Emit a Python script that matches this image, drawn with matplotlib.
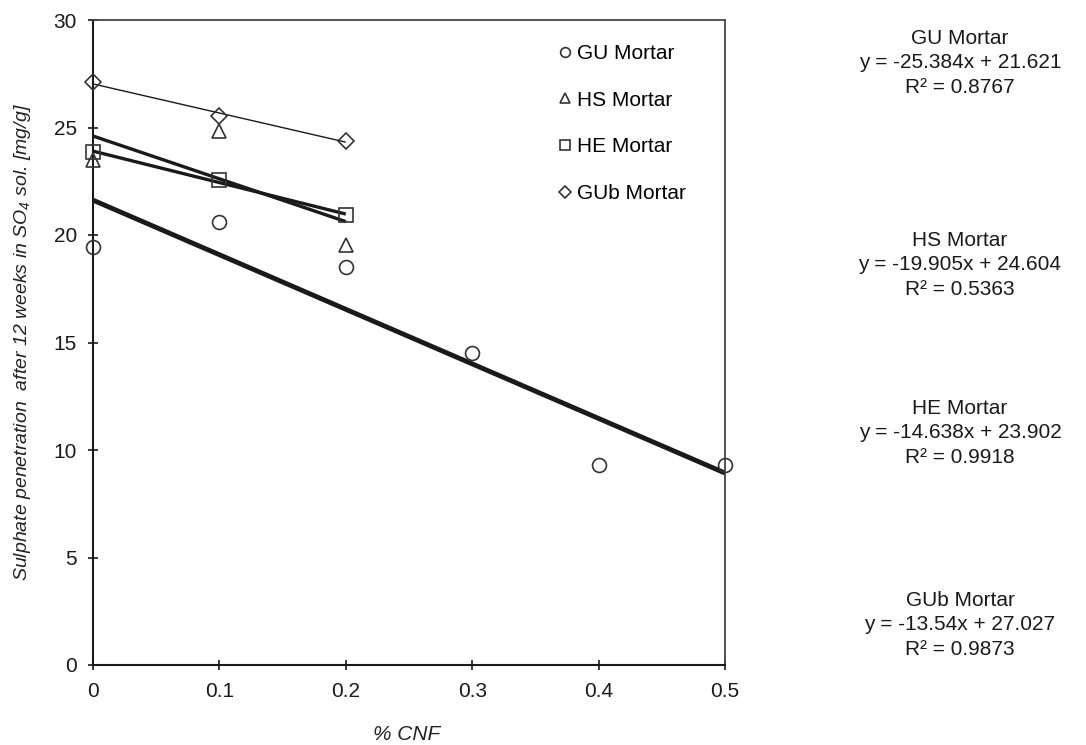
import matplotlib
matplotlib.use("Agg")
import matplotlib.pyplot as plt
import numpy as np

plt.rcParams['font.family'] = ['Liberation Sans', 'DejaVu Sans']
plt.rcParams['mathtext.fontset'] = 'custom'
plt.rcParams['mathtext.rm'] = 'Liberation Sans:italic'
plt.rcParams['mathtext.it'] = 'Liberation Sans:italic'

# % CNF and sulphate penetration per mortar
series = ["GU Mortar", "HS Mortar", "HE Mortar", "GUb Mortar"]
cnf_gu = [0.0, 0.1, 0.2, 0.3, 0.4, 0.5]
pen_gu = [19.45, 20.6, 18.5, 14.5, 9.3, 9.3]
cnf_short = [0.0, 0.1, 0.2]
pen_hs = [23.5, 24.82, 19.52]
pen_he = [23.85, 22.54, 20.92]
pen_gub = [27.1, 25.53, 24.39]

# linear trend lines (slope, intercept, R²)
slopes = [-25.384, -19.905, -14.638, -13.54]
intercepts = [21.621, 24.604, 23.902, 27.027]
r2 = ["0.8767", "0.5363", "0.9918", "0.9873"]
fit_ranges = [(0.0, 0.5), (0.0, 0.2), (0.0, 0.2), (0.0, 0.2)]

xs = [cnf_gu, cnf_short, cnf_short, cnf_short]
ys = [pen_gu, pen_hs, pen_he, pen_gub]
markers = ['o', '^', 's', 'D']
msizes = [10, 10, 10, 8.5]
fit_widths = [3.5, 2.4, 2.4, 1.0]
ink = '#1a1a1a'

W, H = 1086, 745
fig = plt.figure(figsize=(W / 100, H / 100), dpi=100)
ax = fig.add_axes([93 / W, 1 - 665 / H, (725 - 93) / W, (665 - 20) / H])

for i in range(4):
    x0, x1 = fit_ranges[i]
    fx = np.array([x0, x1])
    ax.plot(fx, slopes[i] * fx + intercepts[i], color=ink, lw=fit_widths[i],
            solid_capstyle='butt', zorder=2)
for i in range(4):
    ax.plot(xs[i], ys[i], linestyle='none', marker=markers[i], ms=msizes[i],
            mfc='none', mec='#333333', mew=1.2, label=series[i], zorder=3,
            clip_on=False)

ax.set_xlim(0, 0.5)
ax.set_ylim(0, 30)
ax.set_xticks([0, 0.1, 0.2, 0.3, 0.4, 0.5])
ax.set_xticklabels(["0", "0.1", "0.2", "0.3", "0.4", "0.5"])
ax.set_yticks([0, 5, 10, 15, 20, 25, 30])
ax.tick_params(direction='inout', length=7, width=1.2, labelsize=15,
               colors=ink)
ax.tick_params(axis='x', pad=9)
ax.tick_params(axis='y', pad=8)
for s in ['left', 'bottom']:
    ax.spines[s].set_linewidth(1.5)
    ax.spines[s].set_color(ink)
for s in ['top', 'right']:
    ax.spines[s].set_linewidth(1.3)
    ax.spines[s].set_color('#444444')

ax.set_xlabel("% CNF", fontsize=15, style='italic', color='#222222')
ax.set_ylabel("Sulphate penetration  after 12 weeks in SO$_4$ sol. [mg/g]",
              fontsize=14, style='italic', color='#222222')
ax.xaxis.set_label_coords((407 - 93) / 632, -(725 - 665) / 645)
ax.yaxis.set_label_coords((33 - 93) / 632, 0.5)

ax.legend(loc='upper left', bbox_to_anchor=((559 - 93) / 632, (665 - 44) / 645),
          frameon=False, fontsize=15, handlelength=0.6, handletextpad=0.25,
          labelspacing=1.33, markerscale=0.7, borderpad=0, borderaxespad=0)

# trend line equations to the right of the plot
eq_top = [29, 231, 399, 591]
for i in range(4):
    txt = (f"{series[i]}\ny = {slopes[i]:g}x + {intercepts[i]:g}\n"
           f"R² = {r2[i]}")
    fig.text(960 / W, 1 - eq_top[i] / H, txt, ha='center', va='top',
             fontsize=15, linespacing=1.36, color=ink)

fig.savefig("out.png", dpi=100)
